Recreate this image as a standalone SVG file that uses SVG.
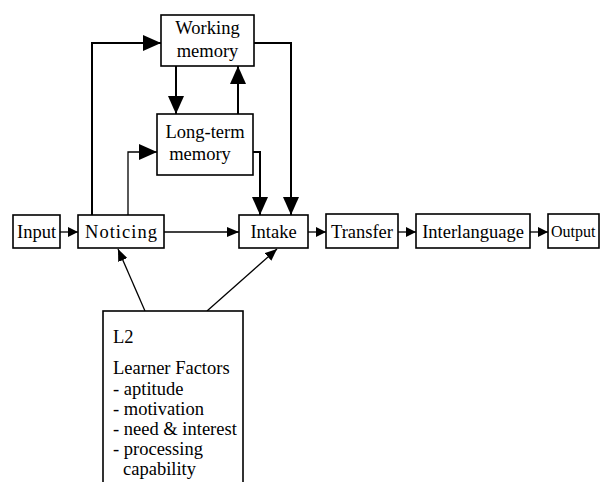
<svg xmlns="http://www.w3.org/2000/svg" width="600" height="482" viewBox="0 0 600 482">
<style>
.box{fill:#fff;stroke:#000;stroke-width:1.6}
.t{font-family:"Liberation Serif","Times New Roman",serif;font-size:18.5px;fill:#000}
.c{text-anchor:middle}
.thick{fill:none;stroke:#000;stroke-width:2}
.thin{fill:none;stroke:#000;stroke-width:1.3}
</style>
<defs>
<marker id="big" markerUnits="userSpaceOnUse" markerWidth="18" markerHeight="16" refX="18" refY="8" orient="auto"><path d="M0,0 L18,8 L0,16 z" fill="#000"/></marker>
<marker id="mid" markerUnits="userSpaceOnUse" markerWidth="12" markerHeight="10" refX="12" refY="5" orient="auto"><path d="M0,0 L12,5 L0,10 z" fill="#000"/></marker>
<marker id="sm" markerUnits="userSpaceOnUse" markerWidth="10" markerHeight="10" refX="10" refY="5" orient="auto"><path d="M0,0 L10,5 L0,10 z" fill="#000"/></marker>
</defs>
<rect width="600" height="482" fill="#fff"/>
<g id="connectors">
<path class="thin" d="M60,232 H78" marker-end="url(#sm)"/>
<path class="thin" d="M164,232 H239" marker-end="url(#mid)"/>
<path class="thin" d="M308,232 H326" marker-end="url(#sm)"/>
<path class="thin" d="M398,232 H416" marker-end="url(#sm)"/>
<path class="thin" d="M530,232 H548" marker-end="url(#sm)"/>
<path class="thick" d="M92,215 V43 H161" marker-end="url(#big)"/>
<path class="thin" d="M128,215 V152 H157" marker-end="url(#big)"/>
<path class="thick" d="M176,66 V114" marker-end="url(#big)"/>
<path class="thick" d="M238,114 V66" marker-end="url(#big)"/>
<path class="thick" d="M254,43 H291 V215" marker-end="url(#big)"/>
<path class="thick" d="M253,152 H260 V215" marker-end="url(#big)"/>
<path class="thin" d="M145,311 L118,249" marker-end="url(#mid)"/>
<path class="thin" d="M207,311 L277,249" marker-end="url(#mid)"/>
</g>
<g id="working-memory"><rect class="box" x="161" y="15" width="93" height="51"/><text class="t c" x="207.5" y="34">Working</text><text class="t c" x="207.5" y="57">memory</text></g>
<g id="long-term-memory"><rect class="box" x="157" y="114" width="96" height="61"/><text class="t c" x="205" y="138">Long-term</text><text class="t c" x="200" y="160">memory</text></g>
<g id="input"><rect class="box" x="13" y="215" width="47" height="33"/><text class="t c" x="36.5" y="238">Input</text></g>
<g id="noticing"><rect class="box" x="78" y="215" width="86" height="33"/><text class="t c" x="121" y="238" textLength="72">Noticing</text></g>
<g id="intake"><rect class="box" x="239" y="215" width="69" height="33"/><text class="t c" x="273.5" y="238">Intake</text></g>
<g id="transfer"><rect class="box" x="326" y="214" width="72" height="34"/><text class="t c" x="362" y="238">Transfer</text></g>
<g id="interlanguage"><rect class="box" x="416" y="214" width="114" height="34"/><text class="t c" x="473" y="238">Interlanguage</text></g>
<g id="output"><rect class="box" x="548" y="214" width="51" height="34"/><text class="t" x="551" y="237" style="font-size:16px">Output</text></g>
<g id="l2-learner-factors"><rect class="box" x="103" y="311" width="140" height="190"/>
<text class="t" x="113" y="343">L2</text>
<text class="t" x="113" y="374">Learner Factors</text>
<text class="t" x="113" y="395">- aptitude</text>
<text class="t" x="113" y="415">- motivation</text>
<text class="t" x="113" y="435">- need &amp; interest</text>
<text class="t" x="113" y="455">- processing</text>
<text class="t" x="123" y="475">capability</text>
</g>
</svg>
